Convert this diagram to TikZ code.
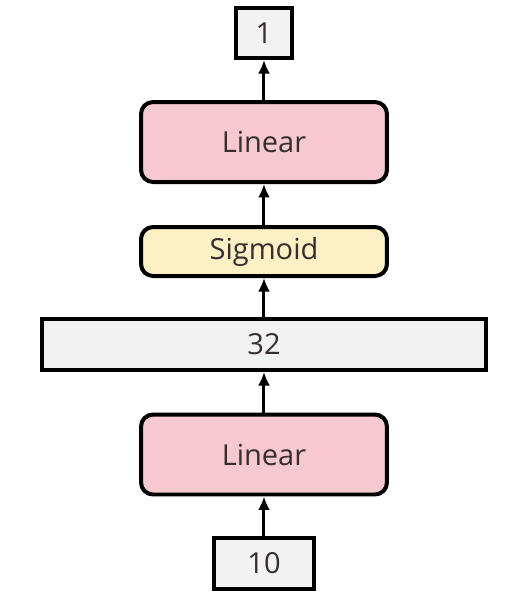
\documentclass[tikz,border=0pt]{standalone}
\usepackage{fontspec}
\setmainfont{Open Sans}
\usepackage{xcolor}
\usepackage{tikz}
\usetikzlibrary{arrows.meta,positioning}

\definecolor{linpink}{RGB}{245,201,205}
\definecolor{sigyellow}{RGB}{253,240,196}
\definecolor{sizegray}{RGB}{242,242,242}
\definecolor{txtgray}{RGB}{55,45,45}

\tikzset{
  box/.style={draw=black,line width=0.08cm,inner sep=0pt,text=txtgray,font=\fontsize{16.5}{18}\selectfont},
  sizebox/.style={box,fill=sizegray},
  layerbox/.style={box,rounded corners=0.24cm,minimum width=4.92cm},
  flow/.style={-{Latex[length=0.27cm,width=0.24cm]},line width=0.06cm}
}

\begin{document}
\begin{tikzpicture}[x=0.02cm,y=-0.02cm]
  \useasboundingbox (0,0) rectangle (531,600);
  % sizes and layers, bottom to top
  \node[sizebox,minimum width=2cm,minimum height=1.02cm] (in) at (264,563.5) {10};
  \node[layerbox,fill=linpink,minimum height=1.6cm] (lin1) at (264,454.5) {Linear};
  \node[sizebox,minimum width=8.9cm,minimum height=1.02cm] (hid) at (264,344.5) {32};
  \node[layerbox,fill=sigyellow,minimum height=0.98cm] (sig) at (264,251.5) {Sigmoid};
  \node[layerbox,fill=linpink,minimum height=1.6cm] (lin2) at (264,142) {Linear};
  \node[sizebox,minimum width=1.12cm,minimum height=1cm] (out) at (264,33) {1};
  % connectors
  \draw[flow] (in) -- (lin1);
  \draw[flow] (lin1) -- (hid);
  \draw[flow] (hid) -- (sig);
  \draw[flow] (sig) -- (lin2);
  \draw[flow] (lin2) -- (out);
\end{tikzpicture}
\end{document}
